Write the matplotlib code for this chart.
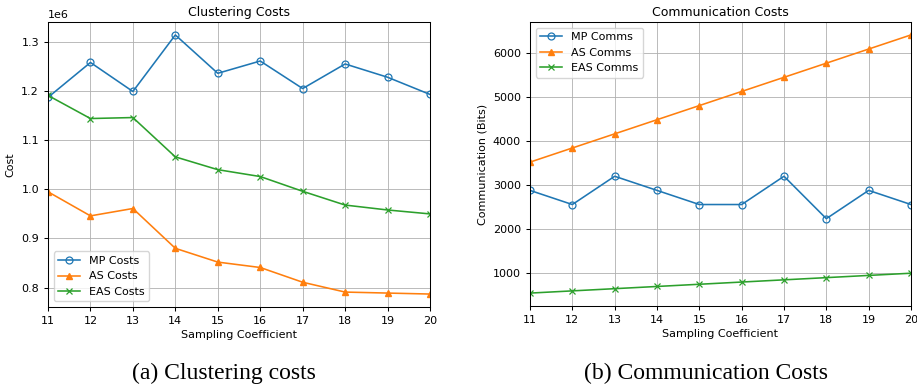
import matplotlib
matplotlib.use("Agg")
import matplotlib.pyplot as plt

x = [11, 12, 13, 14, 15, 16, 17, 18, 19, 20]
mp_costs = [1.187e6, 1.258e6, 1.199e6, 1.314e6, 1.236e6, 1.261e6, 1.205e6, 1.255e6, 1.228e6, 1.193e6]
as_costs = [0.995e6, 0.946e6, 0.961e6, 0.880e6, 0.852e6, 0.841e6, 0.811e6, 0.791e6, 0.789e6, 0.787e6]
eas_costs = [1.191e6, 1.144e6, 1.146e6, 1.066e6, 1.040e6, 1.026e6, 0.996e6, 0.968e6, 0.958e6, 0.950e6]

mp_comms = [2880, 2560, 3200, 2880, 2560, 2560, 3200, 2240, 2880, 2560]
as_comms = [3520, 3840, 4160, 4480, 4800, 5120, 5440, 5760, 6080, 6400]
eas_comms = [555, 605, 655, 705, 755, 805, 855, 905, 955, 1005]

W, H = 917, 388
fig = plt.figure(figsize=(W / 100, H / 100), dpi=100)
fs = 8
plt.rcParams['font.size'] = fs
lw = 1.15
ms = 5

ax1 = fig.add_axes([48 / W, (H - 307) / H, 382 / W, 285 / H])
ax2 = fig.add_axes([530 / W, (H - 306) / H, 381 / W, 284 / H])

for ax in (ax1, ax2):
    ax.tick_params(labelsize=fs, width=0.75, length=3)
    for s in ax.spines.values():
        s.set_linewidth(0.75)

ax1.plot(x, mp_costs, marker='o', fillstyle='none', color='#1f77b4', lw=lw, ms=ms, mew=0.9, label='MP Costs')
ax1.plot(x, as_costs, marker='^', color='#ff7f0e', lw=lw, ms=ms, label='AS Costs')
ax1.plot(x, eas_costs, marker='x', color='#2ca02c', lw=lw, ms=ms, mew=0.9, label='EAS Costs')
ax1.set_title('Clustering Costs', fontsize=9, pad=4)
ax1.set_xlabel('Sampling Coefficient', fontsize=fs, labelpad=3)
ax1.set_ylabel('Cost', fontsize=fs)
ax1.set_xlim(11, 20)
ax1.set_xticks(x)
ax1.grid(True, lw=0.6)
ax1.legend(loc='lower left', fontsize=fs)

ax2.plot(x, mp_comms, marker='o', fillstyle='none', color='#1f77b4', lw=lw, ms=ms, mew=0.9, label='MP Comms')
ax2.plot(x, as_comms, marker='^', color='#ff7f0e', lw=lw, ms=ms, label='AS Comms')
ax2.plot(x, eas_comms, marker='x', color='#2ca02c', lw=lw, ms=ms, mew=0.9, label='EAS Comms')
ax2.set_title('Communication Costs', fontsize=9, pad=4)
ax2.set_xlabel('Sampling Coefficient', fontsize=fs, labelpad=3)
ax2.set_ylabel('Communication (Bits)', fontsize=fs)
ax2.set_xlim(11, 20)
ax2.set_xticks(x)
ax2.grid(True, lw=0.6)
ax2.legend(loc='upper left', fontsize=fs)

fig.text(224 / W, 1 - 373 / H, '(a) Clustering costs', ha='center', va='center',
         family='Liberation Serif', fontsize=17)
fig.text(706 / W, 1 - 373 / H, '(b) Communication Costs', ha='center', va='center',
         family='Liberation Serif', fontsize=17)

fig.savefig('out.png', dpi=100)
